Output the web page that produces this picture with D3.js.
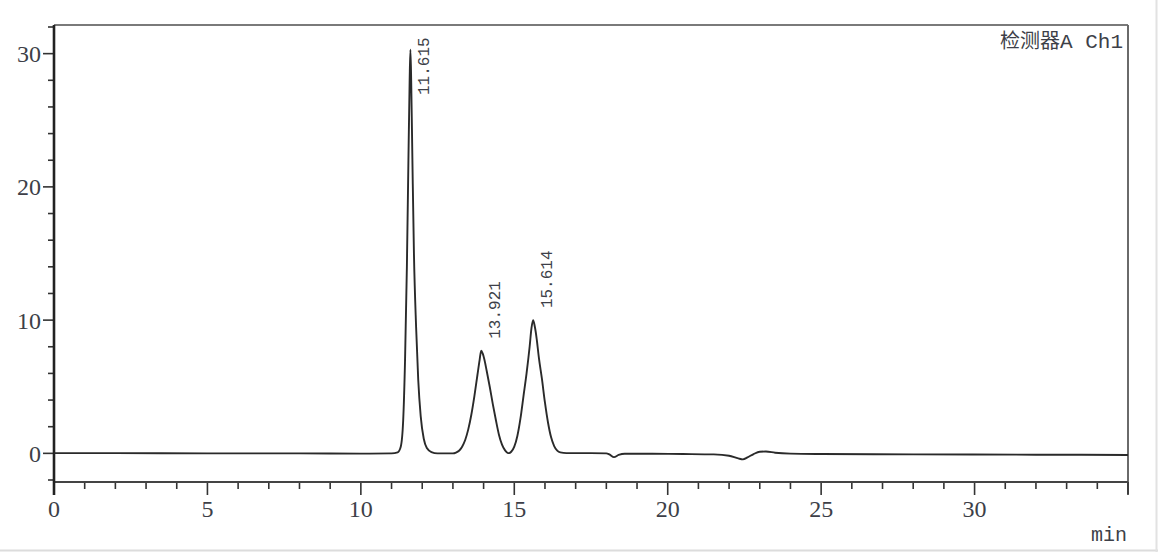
<!DOCTYPE html>
<html>
<head>
<meta charset="utf-8">
<script src="https://cdn.jsdelivr.net/npm/d3@7"></script>
<style>
  html, body { margin: 0; padding: 0; background: #fff; }
  svg { display: block; }
</style>
</head>
<body>
<svg id="chart" width="1158" height="552"></svg>
<script>
// ---- data ----
const times = [
  0, 2, 5, 8, 10, 11.0, 11.2, 11.3, 11.38, 11.44, 11.5, 11.55, 11.59, 11.615, 11.64, 11.68, 11.73, 11.8, 11.87, 11.95, 12.05, 12.15, 12.3, 12.5,
  13.0, 13.1, 13.2, 13.3, 13.4, 13.5, 13.6, 13.7, 13.8, 13.87, 13.921, 13.97, 14.02, 14.1, 14.2, 14.3, 14.4, 14.5, 14.6, 14.7, 14.78, 14.83,
  14.9, 15.0, 15.1, 15.2, 15.3, 15.4, 15.5, 15.56, 15.614, 15.67, 15.73, 15.8, 15.9, 16.0, 16.1, 16.2, 16.3, 16.4, 16.5, 16.7,
  17.5, 18.0, 18.1, 18.25, 18.4, 18.6, 19.5, 20.5, 21.5, 22.0, 22.3, 22.45, 22.6, 22.8, 23.0, 23.2, 23.5, 24.0, 25, 28, 32, 35
];
const signal = [
  0.02, 0.02, 0.0, 0.0, -0.02, 0.0, 0.08, 0.5, 2.5, 7, 14, 22, 28, 30.3, 28, 22, 15, 9.5, 5.5, 2.8, 1.1, 0.4, 0.1, 0.0,
  0.0, 0.06, 0.2, 0.5, 1.0, 1.8, 2.9, 4.3, 5.9, 7.0, 7.7, 7.5, 7.1, 6.2, 5.0, 3.7, 2.5, 1.4, 0.65, 0.22, 0.04, 0.02,
  0.12, 0.5, 1.3, 2.6, 4.3, 6.0, 8.0, 9.4, 10.0, 9.5, 8.6, 7.2, 5.6, 3.8, 2.3, 1.2, 0.55, 0.2, 0.07, 0.02,
  0.02, 0.0, -0.08, -0.28, -0.12, -0.03, -0.03, -0.05, -0.08, -0.18, -0.38, -0.45, -0.3, -0.05, 0.12, 0.14, 0.05, -0.02, -0.05, -0.08, -0.1, -0.12
];
const peakTimes = [11.615, 13.921, 15.614];
const peakHeights = [30.3, 7.7, 10.0];
const peakLabels = ["11.615", "13.921", "15.614"];
const xTickLabels = [0, 5, 10, 15, 20, 25, 30];
const yTickLabels = [0, 10, 20, 30];
const detectorLabelCJK = "检测器";
const detectorLabelLatin = "A Ch1";
const xUnitLabel = "min";

// ---- layout ----
const svg = d3.select("#chart");
const mLeft = 54, mRight = 1128, mTop = 25, mBottom = 482;
const x = d3.scaleLinear().domain([0, 35]).range([mLeft, mRight]);
const y = d3.scaleLinear().domain([-2.15, 32.15]).range([mBottom, mTop]);

const labelColor = "#3d3f48";
const serif = "'Liberation Serif', 'DejaVu Serif', serif";
const mono = "'Liberation Mono', 'DejaVu Sans Mono', monospace";

// outer image border (light)
svg.append("line").attr("x1", 0).attr("x2", 1158).attr("y1", 550.5).attr("y2", 550.5)
  .attr("stroke", "#dcdcdc").attr("stroke-width", 2);
svg.append("line").attr("x1", 1156.5).attr("x2", 1156.5).attr("y1", 0).attr("y2", 552)
  .attr("stroke", "#e2e2e2").attr("stroke-width", 2);

// frame top & right
svg.append("line").attr("x1", mLeft).attr("x2", mRight).attr("y1", mTop).attr("y2", mTop)
  .attr("stroke", "#7a7a7a").attr("stroke-width", 2);
svg.append("line").attr("x1", mRight).attr("x2", mRight).attr("y1", mTop).attr("y2", mBottom + 12)
  .attr("stroke", "#6a6a6a").attr("stroke-width", 2);

// x axis
const xMinor = d3.range(0, 36, 1);
svg.append("g").selectAll("line").data(xMinor).join("line")
  .attr("x1", d => x(d)).attr("x2", d => x(d))
  .attr("y1", mBottom).attr("y2", d => d % 5 === 0 ? mBottom + 13 : mBottom + 7)
  .attr("stroke", "#333").attr("stroke-width", 1.6);
svg.append("line").attr("x1", mLeft).attr("x2", mRight).attr("y1", mBottom).attr("y2", mBottom)
  .attr("stroke", "#444").attr("stroke-width", 2.2);
svg.append("g").selectAll("text").data(xTickLabels).join("text")
  .attr("x", d => x(d)).attr("y", 517)
  .attr("text-anchor", "middle")
  .attr("font-family", serif).attr("font-size", 24)
  .attr("fill", labelColor)
  .text(d => d);

// y axis
const yMinor = d3.range(-2, 33, 2);
svg.append("g").selectAll("line").data(yMinor).join("line")
  .attr("x1", d => (d % 10 === 0) ? mLeft - 11 : mLeft - 6).attr("x2", mLeft)
  .attr("y1", d => y(d)).attr("y2", d => y(d))
  .attr("stroke", "#333").attr("stroke-width", 1.6);
svg.append("line").attr("x1", mLeft).attr("x2", mLeft).attr("y1", mTop).attr("y2", mBottom + 13)
  .attr("stroke", "#222").attr("stroke-width", 2.6);
svg.append("g").selectAll("text").data(yTickLabels).join("text")
  .attr("x", 41).attr("y", d => y(d))
  .attr("dy", "0.35em")
  .attr("text-anchor", "end")
  .attr("font-family", serif).attr("font-size", 24)
  .attr("fill", labelColor)
  .text(d => d);

// signal
const pts = times.map((t, i) => [t, signal[i]]);
const line = d3.line().x(d => x(d[0])).y(d => y(d[1])).curve(d3.curveMonotoneX);
svg.append("path").datum(pts)
  .attr("d", line)
  .attr("fill", "none")
  .attr("stroke", "#2a2a2a")
  .attr("stroke-width", 1.9)
  .attr("stroke-linejoin", "round");

// peak labels (rotated)
const labelFont = 16;
const labelLen = 58;
svg.append("g").selectAll("text").data(peakTimes).join("text")
  .attr("transform", (d, i) => {
    const px = x(d) + 13;
    const py = Math.max(y(peakHeights[i]) - 12, mTop + 12 + labelLen);
    return `translate(${px},${py}) rotate(-90)`;
  })
  .attr("dy", "0.35em")
  .attr("font-family", mono).attr("font-size", labelFont)
  .attr("fill", labelColor)
  .text((d, i) => peakLabels[i]);

// detector label
const det = svg.append("text")
  .attr("x", 1123).attr("y", 48)
  .attr("text-anchor", "end")
  .attr("font-size", 21)
  .attr("fill", labelColor);
det.append("tspan").attr("font-family", "'Noto Sans CJK SC', sans-serif").attr("font-size", 20).text(detectorLabelCJK);
det.append("tspan").attr("font-family", mono).text(detectorLabelLatin);

// unit label
svg.append("text")
  .attr("x", 1127).attr("y", 541)
  .attr("text-anchor", "end")
  .attr("font-family", mono).attr("font-size", 20)
  .attr("fill", labelColor)
  .text(xUnitLabel);
</script>
</body>
</html>
